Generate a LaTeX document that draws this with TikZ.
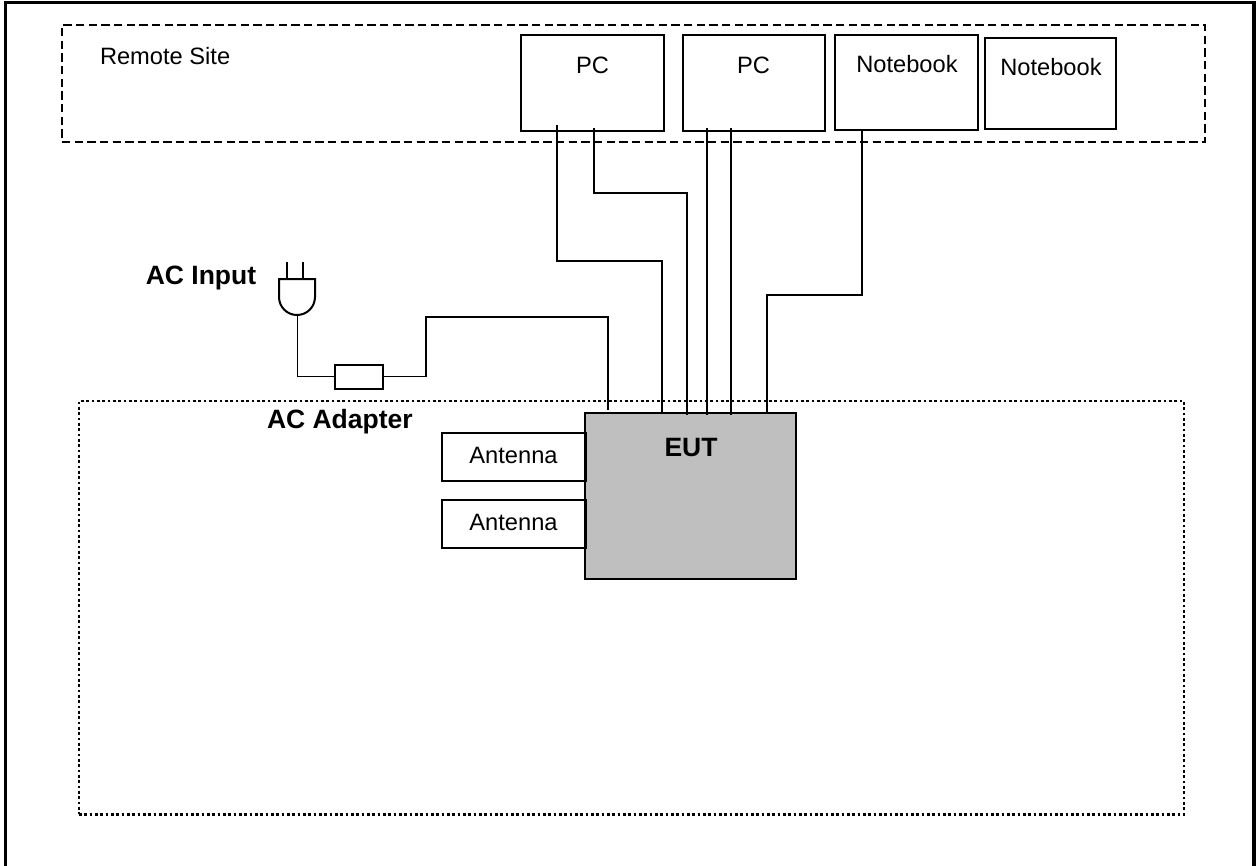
\documentclass[tikz,border=0pt]{standalone}
\usepackage{fontspec}
\setmainfont{Liberation Sans}
\usetikzlibrary{positioning,calc}
\begin{document}
\begin{tikzpicture}[
  x=0.6pt,y=-0.6pt,
  every node/.style={inner sep=0pt,outer sep=0pt},
  pcbox/.style={rectangle,draw,line width=1.2pt,anchor=north west},
  wire/.style={draw,line width=1.15pt},
  lbl/.style={font=\fontsize{14.2}{16}\selectfont},
  blbl/.style={font=\fontsize{15.9}{18}\selectfont\bfseries}
]
  \useasboundingbox (0,0) rectangle (1259,865);

  % Frame
  \draw[line width=2pt] (5.5,880) -- (5.5,2.5) -- (1254,2.5) -- (1254,880);

  % Regions
  \node[rectangle,draw,line width=1.2pt,dash pattern=on 5pt off 2.6pt,anchor=north west,minimum width=686pt,minimum height=70.2pt] (remote) at (62,25) {};
  \node[rectangle,draw,line width=1.4pt,dash pattern=on 1.6pt off 1.6pt,anchor=north west,minimum width=663pt,minimum height=248pt] (adapter) at (79,401) {};
  \node[lbl,anchor=west] (remotelbl) at (100,56.5) {Remote Site};
  \node[blbl,anchor=west] (adapterlbl) at (267,422) {AC Adapter};

  % Remote site
  \node[pcbox,minimum width=85.8pt,minimum height=57.4pt] (pca) at (521,35) {};
  \node[lbl] (pcalbl) at (592.5,65.5) {PC};
  \node[pcbox,minimum width=85.2pt,minimum height=57.4pt] (pcb) at (683,35) {};
  \node[lbl] (pcblbl) at (753.5,65.5) {PC};
  \node[pcbox,minimum width=85.8pt,minimum height=57.4pt] (nba) at (835,34.5) {};
  \node[lbl] (nbalbl) at (907,64) {Notebook};
  \node[pcbox,minimum width=78.6pt,minimum height=54.3pt] (nbb) at (985,38) {};
  \node[lbl] (nbblbl) at (1051,67.5) {Notebook};

  % EUT
  \node[rectangle,draw,line width=1.2pt,fill=black!25,anchor=north west,minimum width=126.4pt,minimum height=100pt] (eut) at (585,412.7) {};
  \node[blbl] (eutlbl) at (691,448) {EUT};
  \node[pcbox,minimum width=86.6pt,minimum height=28.8pt] (anta) at (441.7,433) {};
  \node[lbl] (antalbl) at (513.5,455) {Antenna};
  \node[pcbox,minimum width=86.6pt,minimum height=28.6pt] (antb) at (441.7,500) {};
  \node[lbl] (antblbl) at (513.5,522) {Antenna};

  % Plug
  \node[blbl] (aclbl) at (201,278) {AC Input};
  \draw[line width=1.2pt] (279,279) -- (315,279) -- (315,297) arc (0:180:18) -- cycle;
  \draw[line width=1.1pt] (287,262) -- (287,279) (303,262) -- (303,279);
  \coordinate (plug) at (297.5,315);
  \node[rectangle,draw,line width=1.2pt,anchor=north west,minimum width=28.8pt,minimum height=14.4pt] (fuse) at (335,364.5) {};

  % Ports
  \coordinate (pcaporta) at (556.7,125);
  \coordinate (pcaportb) at (594,128);
  \coordinate (pcbporta) at (707,128);
  \coordinate (pcbportb) at (730.7,128);
  \coordinate (nbaport) at (862,130);
  \coordinate (eutac) at (608,410);
  \coordinate (eutporta) at (662,413);
  \coordinate (eutportb) at (687,415);
  \coordinate (eutportc) at (707,415);
  \coordinate (eutportd) at (730.7,415);
  \coordinate (eutporte) at (767,413);

  % Arrows
  \draw[wire] (plug) |- (fuse.west);
  \draw[wire] (fuse.east) -| (426,317) -| (eutac);
  \draw[wire] (pcaporta) |- (662,261) -- (eutporta);
  \draw[wire] (pcaportb) |- (687,193) -- (eutportb);
  \draw[wire] (pcbporta) -- (eutportc);
  \draw[wire] (pcbportb) -- (eutportd);
  \draw[wire] (nbaport) |- (767,295) -- (eutporte);
\end{tikzpicture}
\end{document}
